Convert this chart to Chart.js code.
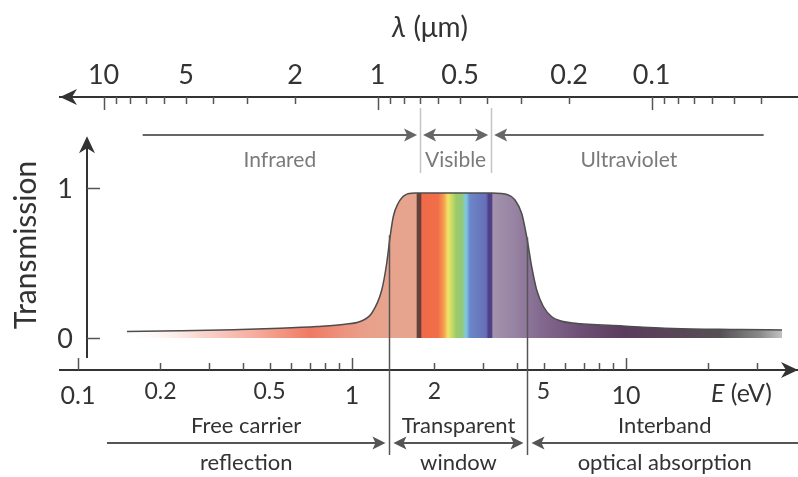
<!DOCTYPE html>
<html>
<head>
<meta charset="utf-8">
<script src="https://cdn.jsdelivr.net/npm/chart.js@4.4.1/dist/chart.umd.min.js"></script>
<style>
html,body{margin:0;padding:0;background:#ffffff;}
#wrap{width:798px;height:477px;}
</style>
</head>
<body>
<div id="wrap"><canvas id="c" width="798" height="477"></canvas></div>
<script>
// ---------- data ----------
const photonEnergyEV = [0.151, 0.236, 0.368, 0.546, 0.745, 0.943, 1.070, 1.180, 1.284, 1.339, 1.376, 1.415, 1.476, 1.561, 1.698, 2.279, 3.235, 3.719, 3.935, 4.163, 4.341, 4.527, 4.722, 4.992, 5.357, 5.743, 6.407, 9.75, 14.84, 26.06, 37.09];
const transmission   = [0.043, 0.048, 0.055, 0.065, 0.077, 0.092, 0.110, 0.165, 0.320, 0.500, 0.670, 0.810, 0.900, 0.953, 0.966, 0.966, 0.966, 0.953, 0.920, 0.830, 0.675, 0.475, 0.320, 0.210, 0.142, 0.115, 0.100, 0.080, 0.064, 0.057, 0.053];

const energyTicks = [0.1, 0.2, 0.3, 0.4, 0.5, 0.6, 0.7, 0.8, 0.9, 1, 2, 3, 4, 5, 6, 7, 8, 9, 10, 20, 30];
const energyLabels = ['0.1', '0.2', '0.5', '1', '2', '5', '10'];
const energyMajor = [0.1, 1, 10];

const wavelengthTicks = [10, 9, 8, 7, 6, 5, 4, 3, 2, 1, 0.9, 0.8, 0.7, 0.6, 0.5, 0.4, 0.3, 0.2, 0.1, 0.09, 0.08, 0.07, 0.06, 0.05, 0.04];
const wavelengthLabels = ['10', '5', '2', '1', '0.5', '0.2', '0.1'];
const wavelengthMajor = [10, 1, 0.1];

const transmissionTicks = [0, 1];
const transmissionLabels = ['0', '1'];

// spectral regions (wavelength, um) and transport regions (energy, eV)
const spectralNames = ['Infrared', 'Visible', 'Ultraviolet'];
const spectralFrom  = [7.2, 0.7, 0.385];
const spectralTo    = [0.7, 0.385, 0.039];
const regionNamesTop    = ['Free carrier', 'Transparent', 'Interband'];
const regionNamesBottom = ['reflection', 'window', 'optical absorption'];
const regionFrom = [0.1276, 1.37, 4.37];
const regionTo   = [1.37, 4.37, 42.43];

const HC = 1.24; // eV*um
const E_MIN = 0.08597, E_MAX = 42.43;

// fill colour stops along the energy axis
const fillStopE = [0.1447, 0.279, 0.462, 0.703, 0.943, 1.163, 1.712, 1.734, 1.778, 1.801, 2.060, 2.167, 2.240, 2.317, 2.397, 2.520, 2.607, 2.696, 3.084, 3.149, 3.229, 3.270, 3.935, 4.854, 6.795, 9.92, 15.74, 22.03, 30.83, 37.41];
const fillStopC = ['rgba(255,255,255,0)', '#f9d6cf', '#f5a898', '#ef7a64', '#ec9580', '#e8a28c', '#e6a48e', '#66403a', '#66403a', '#ef6a4a', '#f26e48', '#f5a050', '#f2e464', '#c8da66', '#9ccb6e', '#94c874', '#7ecbe6', '#6c86c8', '#6670b8', '#4f4088', '#4f4088', '#a393ac', '#9782a2', '#846a90', '#6e5076', '#5b3c5d', '#594658', '#555055', '#8a8a8a', '#c4c4c4'];

// ---------- helpers ----------
const FONT = 'Lato, "Open Sans", sans-serif';
const near = (a, b) => Math.abs(a - b) < 1e-9 * Math.max(1, Math.abs(b));
const inList = (v, list) => list.some(u => near(v, u));
const labelOf = (v, labels) => { const l = labels.find(s => near(parseFloat(s), v)); return l === undefined ? '' : l; };

function fillGradient(ctx) {
  const chart = ctx.chart;
  const area = chart.chartArea;
  if (!area || !chart.scales.x) return 'rgba(0,0,0,0)';
  const g = chart.ctx.createLinearGradient(area.left, 0, area.right, 0);
  const w = area.right - area.left;
  fillStopE.forEach((e, i) => {
    const off = (chart.scales.x.getPixelForValue(e) - area.left) / w;
    g.addColorStop(Math.min(1, Math.max(0, off)), fillStopC[i]);
  });
  return g;
}

function arrowHead(ctx, x, y, dx, dy, len, half, notch, color) {
  const px = -dy, py = dx;
  ctx.beginPath();
  ctx.moveTo(x, y);
  ctx.lineTo(x - dx * len + px * half, y - dy * len + py * half);
  ctx.lineTo(x - dx * (len - notch), y - dy * (len - notch));
  ctx.lineTo(x - dx * len - px * half, y - dy * len - py * half);
  ctx.closePath();
  ctx.fillStyle = color;
  ctx.fill();
}

function hArrow(ctx, x1, x2, y, headStart, headEnd, color) {
  const len = 13;
  ctx.strokeStyle = color;
  ctx.lineWidth = 2;
  ctx.beginPath();
  ctx.moveTo(headStart ? x1 + len - 4 : x1, y);
  ctx.lineTo(headEnd ? x2 - len + 4 : x2, y);
  ctx.stroke();
  if (headStart) arrowHead(ctx, x1, y, -1, 0, len, 6.5, 3, color);
  if (headEnd) arrowHead(ctx, x2, y, 1, 0, len, 6.5, 3, color);
}

function vLine(ctx, x, y1, y2, color, w) {
  ctx.strokeStyle = color; ctx.lineWidth = w;
  ctx.beginPath(); ctx.moveTo(x, y1); ctx.lineTo(x, y2); ctx.stroke();
}

const decorations = {
  id: 'decorations',
  afterDraw(chart) {
    const ctx = chart.ctx;
    const area = chart.chartArea;
    const xs = chart.scales.x, x2 = chart.scales.x2, ys = chart.scales.y;
    ctx.save();

    // axis arrow heads
    arrowHead(ctx, area.right, area.bottom, 1, 0, 17, 8, 5, '#333333');
    arrowHead(ctx, area.left, area.top, -1, 0, 17, 8, 5, '#333333');

    // tick marks
    energyTicks.forEach(v => {
      const p = Math.round(xs.getPixelForValue(v)) + 0.5;
      vLine(ctx, p, area.bottom, area.bottom - (inList(v, energyMajor) ? 12 : 7), '#555555', 1.5);
    });
    wavelengthTicks.forEach(v => {
      const p = Math.round(x2.getPixelForValue(v)) + 0.5;
      vLine(ctx, p, area.top, area.top + (inList(v, wavelengthMajor) ? 13 : 7), '#555555', 1.5);
    });

    // y axis (transmission)
    const yAxisX = area.left + 27;
    vLine(ctx, yAxisX, ys.getPixelForValue(-0.133), ys.getPixelForValue(1.30), '#333333', 2);
    arrowHead(ctx, yAxisX, ys.getPixelForValue(1.345), 0, -1, 17, 8, 5, '#333333');
    ctx.font = '27px ' + FONT;
    ctx.fillStyle = '#333333';
    ctx.textAlign = 'right';
    ctx.textBaseline = 'middle';
    transmissionTicks.forEach((v, i) => {
      const py = Math.round(ys.getPixelForValue(v)) + 0.5;
      ctx.strokeStyle = '#555555'; ctx.lineWidth = 1.5;
      ctx.beginPath(); ctx.moveTo(yAxisX, py); ctx.lineTo(yAxisX + 13, py); ctx.stroke();
      ctx.fillText(transmissionLabels[i], yAxisX - 14, py + 1);
    });

    // axis titles
    ctx.save();
    ctx.translate(36, 245);
    ctx.rotate(-Math.PI / 2);
    ctx.textAlign = 'center';
    ctx.textBaseline = 'alphabetic';
    ctx.font = '30px ' + FONT;
    ctx.fillText('Transmission', 0, 0);
    ctx.restore();

    ctx.textAlign = 'left';
    ctx.textBaseline = 'alphabetic';
    ctx.font = 'italic 28px ' + FONT;
    ctx.fillText('λ', 392, 37);
    let w = ctx.measureText('λ').width;
    ctx.font = '28px ' + FONT;
    ctx.fillText('\u2009(μm)', 392 + w + 4, 37);

    ctx.font = 'italic 25px ' + FONT;
    ctx.fillText('E', 711, 402);
    w = ctx.measureText('E').width;
    ctx.font = '25px ' + FONT;
    ctx.fillText(' (eV)', 711 + w, 402);

    // spectral regions on top
    const gap = 3;
    spectralFrom.forEach((lf, i) => {
      const a = x2.getPixelForValue(lf), b = x2.getPixelForValue(spectralTo[i]);
      const boundL = i > 0, boundR = i < spectralFrom.length - 1;
      const xa = a + (boundL ? gap : 0), xb = b - (boundR ? gap : 0);
      hArrow(ctx, xa, xb, 135, boundL, boundR, '#666666');
      ctx.font = '21px ' + FONT;
      ctx.fillStyle = '#7a7a7a';
      ctx.textAlign = 'center';
      ctx.fillText(spectralNames[i], (xa + xb) / 2, 167);
    });
    [0.7, 0.385].forEach(l => {
      vLine(ctx, Math.round(x2.getPixelForValue(l)) + 0.5, 108, 173, '#c4c4c4', 1.5);
    });

    // transport regions at bottom
    [1.37, 4.37].forEach((e, i) => {
      const p = Math.round(xs.getPixelForValue(e)) + 0.5;
      vLine(ctx, p, ys.getPixelForValue(i === 0 ? 0.685 : 0.67), 455, '#555555', 1.5);
    });
    regionFrom.forEach((ef, i) => {
      const a = xs.getPixelForValue(ef), b = xs.getPixelForValue(regionTo[i]);
      const boundL = i > 0, boundR = i < regionFrom.length - 1;
      const xa = a + (boundL ? 4 : 0), xb = b - (boundR ? 4 : 0);
      hArrow(ctx, xa, xb, 443, boundL, boundR, '#555555');
      ctx.font = '22px ' + FONT;
      ctx.fillStyle = '#333333';
      ctx.textAlign = 'center';
      ctx.fillText(regionNamesTop[i], (xa + xb) / 2, 433);
      ctx.fillText(regionNamesBottom[i], (xa + xb) / 2, 470);
    });

    ctx.restore();
  }
};

const chart = new Chart(document.getElementById('c'), {
  type: 'line',
  data: {
    datasets: [{
      data: photonEnergyEV.map((e, i) => ({ x: e, y: transmission[i] })),
      borderColor: '#4d4d4d',
      borderWidth: 1.5,
      pointRadius: 0,
      cubicInterpolationMode: 'monotone',
      fill: 'origin',
      backgroundColor: fillGradient
    }]
  },
  options: {
    responsive: false,
    animation: false,
    devicePixelRatio: 1,
    layout: { padding: { left: 60, right: 0, top: 0, bottom: 0 } },
    plugins: { legend: { display: false }, tooltip: { enabled: false }, title: { display: false } },
    scales: {
      x: {
        type: 'logarithmic',
        position: 'bottom',
        min: E_MIN, max: E_MAX,
        bounds: 'data',
        grid: { display: false, drawTicks: false },
        border: { display: true, color: '#333333', width: 2 },
        afterBuildTicks: s => { s.ticks = energyTicks.map(v => ({ value: v })); },
        afterFit: s => { s.height = 107; },
        ticks: {
          autoSkip: false, maxRotation: 0, minRotation: 0,
          padding: 11,
          color: '#333333',
          callback: v => labelOf(v, energyLabels),
          font: c => (c.tick && inList(c.tick.value, energyMajor))
            ? { family: FONT, size: 25, lineHeight: 1.2 }
            : { family: FONT, size: 23, lineHeight: 0.9 }
        }
      },
      x2: {
        type: 'logarithmic',
        position: 'top',
        reverse: true,
        min: HC / E_MAX, max: HC / E_MIN,
        bounds: 'data',
        grid: { display: false, drawTicks: false },
        border: { display: true, color: '#333333', width: 2 },
        afterBuildTicks: s => { s.ticks = wavelengthTicks.slice().reverse().map(v => ({ value: v })); },
        afterFit: s => { s.height = 97; },
        ticks: {
          autoSkip: false, maxRotation: 0, minRotation: 0,
          padding: 6,
          color: '#333333',
          callback: v => labelOf(v, wavelengthLabels),
          font: { family: FONT, size: 27, lineHeight: 1.2 }
        }
      },
      y: {
        type: 'linear',
        min: -0.2133, max: 1.6067,
        bounds: 'data',
        display: false
      }
    }
  },
  plugins: [decorations]
});
</script>
</body>
</html>
